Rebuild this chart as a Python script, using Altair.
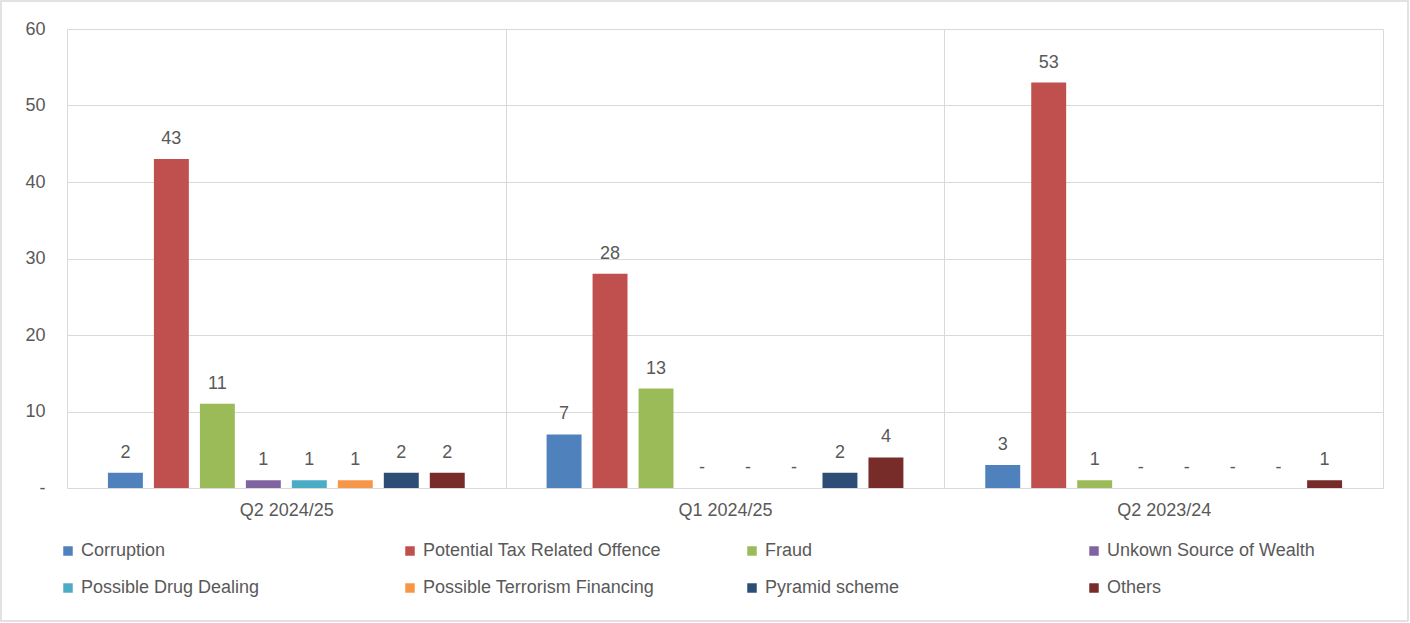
import altair as alt
import pandas as pd

groups = ["Q2 2024/25", "Q1 2024/25", "Q2 2023/24"]
series = [
    "Corruption",
    "Potential Tax Related Offence",
    "Fraud",
    "Unkown Source of Wealth",
    "Possible Drug Dealing",
    "Possible Terrorism Financing",
    "Pyramid scheme",
    "Others",
]
colors = ["#4F81BD", "#C0504D", "#9BBB59", "#8064A2", "#4BACC6", "#F79646", "#2C4D75", "#772C2A"]

q2_2024 = [2, 43, 11, 1, 1, 1, 2, 2]
q1_2024 = [7, 28, 13, 0, 0, 0, 2, 4]
q2_2023 = [3, 53, 1, 0, 0, 0, 0, 1]

rows = []
for g, vals in zip(groups, [q2_2024, q1_2024, q2_2023]):
    for s, v in zip(series, vals):
        rows.append({"group": g, "series": s, "value": v})
df = pd.DataFrame(rows)

FONT = "Liberation Sans"
TXT = "#595959"
GRID = "#D9D9D9"
FS = 18

x = alt.X(
    "group:N",
    sort=groups,
    scale=alt.Scale(paddingInner=0, paddingOuter=0),
    axis=alt.Axis(
        title=None,
        labelAngle=0,
        ticks=False,
        domain=False,
        grid=True,
        tickBand="extent",
        gridColor=GRID,
        gridWidth=1,
        labelPadding=13,
        labelFontSize=FS,
        labelColor=TXT,
        labelFont=FONT,
    ),
)
xoff = alt.XOffset(
    "series:N",
    sort=series,
    scale=alt.Scale(paddingInner=0.24, paddingOuter=0.89),
)
y = alt.Y(
    "value:Q",
    scale=alt.Scale(domain=[0, 60], nice=False),
    axis=alt.Axis(
        title=None,
        values=[0, 10, 20, 30, 40, 50, 60],
        ticks=False,
        domain=False,
        gridColor=GRID,
        gridWidth=1,
        labelPadding=22,
        labelFontSize=FS,
        labelColor=TXT,
        labelFont=FONT,
        labelExpr="datum.value == 0 ? '-' : datum.label",
    ),
)

base = alt.Chart(df).encode(x=x, xOffset=xoff)

bars = base.mark_bar().encode(
    y=y,
    color=alt.Color(
        "series:N",
        sort=series,
        scale=alt.Scale(domain=series, range=colors),
        legend=alt.Legend(
            title=None,
            orient="none",
            legendX=-8,
            legendY=513,
            columns=4,
            direction="horizontal",
            symbolType="square",
            symbolSize=90,
            symbolStrokeWidth=0,
            labelFontSize=FS,
            labelColor=TXT,
            labelFont=FONT,
            labelOffset=4,
            labelLimit=400,
            rowPadding=19,
            columnPadding=82,
            gridAlign="all",
        ),
    ),
)

labels = base.transform_calculate(
    lab="datum.value == 0 ? '-' : toString(datum.value)"
).mark_text(
    baseline="alphabetic", dy=-15, fontSize=FS, color=TXT, font=FONT
).encode(
    y=alt.Y("value:Q", scale=alt.Scale(domain=[0, 60], nice=False)),
    text="lab:N",
)

frame = alt.Chart(pd.DataFrame({"f": [0]})).mark_rect(
    fill=None, stroke=GRID, strokeWidth=1.5, clip=False
).encode(
    x=alt.value(-66), x2=alt.value(1316 + 25),
    y=alt.value(-28), y2=alt.value(459 + 133),
)

chart = (
    alt.layer(bars, labels, frame)
    .properties(
        width=1316,
        height=459,
        autosize=alt.AutoSizeParams(type="none"),
        padding={"left": 67, "top": 29, "right": 27, "bottom": 135},
        background="white",
    )
    .configure_view(stroke=None)
)

chart.save("out.html", embed_options={"renderer": "svg", "actions": False})
